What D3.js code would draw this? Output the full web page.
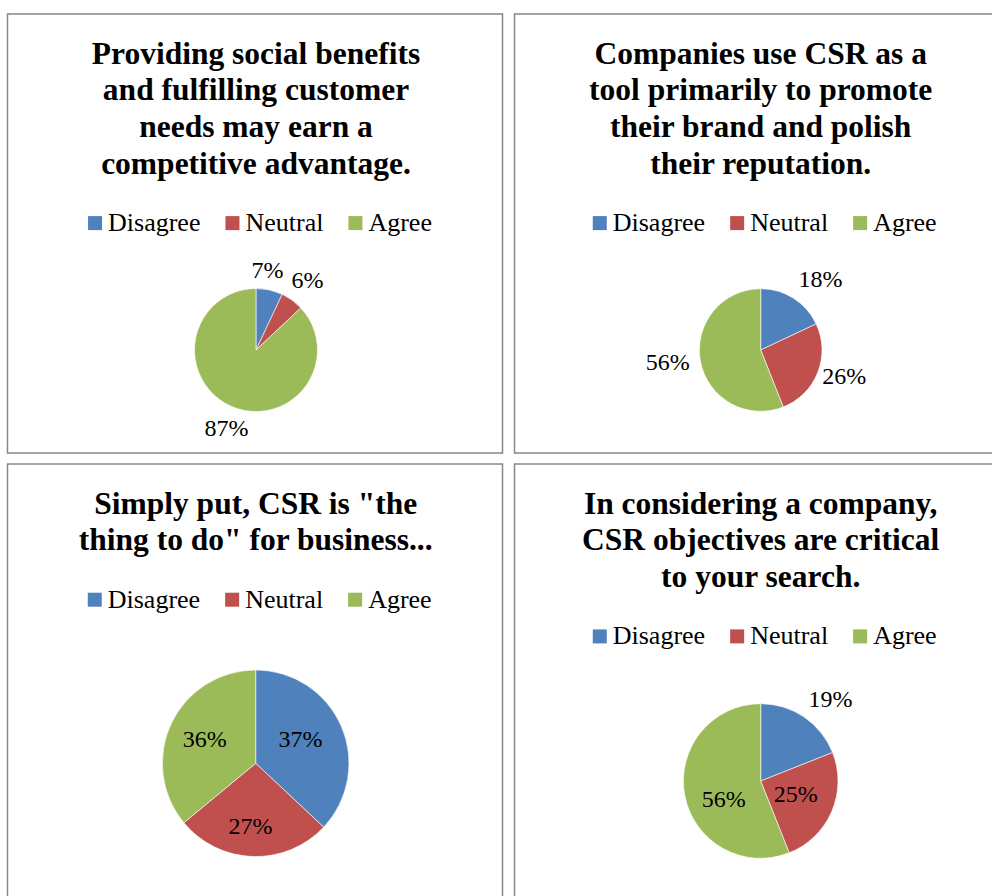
<!DOCTYPE html>
<html>
<head>
<meta charset="utf-8">
<script src="https://cdn.jsdelivr.net/npm/d3@7"></script>
<style>
  html, body { margin: 0; padding: 0; background: #ffffff; }
  svg { display: block; }
</style>
</head>
<body>
<script>
// Survey answers, one pie per statement
const categories = ["Disagree", "Neutral", "Agree"];

const titleQ1 = ["Providing social benefits", "and fulfilling customer", "needs may earn a", "competitive advantage."];
const titleQ2 = ["Companies use CSR as a", "tool primarily to promote", "their brand and polish", "their reputation."];
const titleQ3 = ["Simply put, CSR is \"the", "thing to do\" for business..."];
const titleQ4 = ["In considering a company,", "CSR objectives are critical", "to your search."];

const valuesQ1 = [7, 6, 87];
const valuesQ2 = [18, 26, 56];
const valuesQ3 = [37, 27, 36];
const valuesQ4 = [19, 25, 56];

const colors = ["#4F81BD", "#C0504D", "#9BBB59"];

// Panel frames and pie geometry
const panels = [
  { title: titleQ1, values: valuesQ1, x: 7.5,   y: 14,  w: 495, h: 439, pieDx: 248.5, pieDy: 336, r: 61.5,
    labels: [[1.314, -4.4], [1.413, 0.3], [1.356, -2.7]] },
  { title: titleQ2, values: valuesQ2, x: 514.5, y: 14,  w: 495, h: 439, pieDx: 246.2, pieDy: 336, r: 61.3,
    labels: [[1.514, 7.7], [1.427, -4.3], [1.529, 3.4]] },
  { title: titleQ3, values: valuesQ3, x: 7.5,   y: 464, w: 495, h: 460, pieDx: 248.2, pieDy: 299.3, r: 93.3,
    labels: [[0.548, -5.4], [0.677, 2.9], [0.607, 0.5]] },
  { title: titleQ4, values: valuesQ4, x: 514.5, y: 464, w: 495, h: 460, pieDx: 246.2, pieDy: 317, r: 77.3,
    labels: [[1.396, 6.1], [0.485, -2.6], [0.529, -14.8]] }
];

const W = 992, H = 896;
const svg = d3.select("body").append("svg").attr("width", W).attr("height", H);

const color = d3.scaleOrdinal().domain(categories).range(colors);
const pie = d3.pie().sort(null).value(d => d.value);

const titleSize = 31.5, titleLead = 36.7, titleTop = 49.5;
const legendSize = 26, legendGap = 57.5;

panels.forEach(p => {
  const g = svg.append("g").attr("transform", `translate(${p.x},${p.y})`);

  g.append("rect")
    .attr("width", p.w).attr("height", p.h)
    .attr("fill", "#ffffff")
    .attr("stroke", "#878787").attr("stroke-width", 1.5);

  const cx = p.pieDx;

  // Title
  const title = g.append("text")
    .attr("font-family", "'Liberation Serif', 'Times New Roman', serif")
    .attr("font-weight", "bold")
    .attr("font-size", titleSize)
    .attr("text-anchor", "middle")
    .attr("fill", "#000");
  p.title.forEach((line, i) => {
    title.append("tspan").attr("x", cx).attr("y", titleTop + i * titleLead).text(line);
  });

  // Legend
  const legendY = titleTop + (p.title.length - 1) * titleLead + legendGap;
  const legend = g.append("g");
  let lx = 0;
  categories.forEach((c, i) => {
    const item = legend.append("g").attr("transform", `translate(${lx},0)`);
    item.append("rect").attr("x", 0).attr("y", -15).attr("width", 14).attr("height", 14).attr("fill", color(c));
    const t = item.append("text")
      .attr("x", 20).attr("y", 0)
      .attr("font-family", "'Liberation Serif', 'Times New Roman', serif")
      .attr("font-size", legendSize)
      .attr("fill", "#000")
      .text(c);
    const tw = t.node().getComputedTextLength();
    lx += 20 + tw + (i < categories.length - 1 ? 25 : 0);
  });
  legend.attr("transform", `translate(${cx + 4 - lx / 2},${legendY})`);

  // Pie
  const data = categories.map((c, i) => ({ cat: c, value: p.values[i] }));
  const arcs = pie(data);
  const arc = d3.arc().innerRadius(0).outerRadius(p.r);
  const pg = g.append("g").attr("transform", `translate(${cx},${p.pieDy})`);
  pg.selectAll("path").data(arcs).join("path")
    .attr("d", arc)
    .attr("fill", d => color(d.data.cat))
    .attr("stroke", "#ffffff").attr("stroke-width", 0.6);

  // Percentage labels
  pg.selectAll("text").data(arcs).join("text")
    .attr("transform", (d, i) => {
      const [f, shift] = p.labels[i];
      const a = (d.startAngle + d.endAngle) / 2 + shift * Math.PI / 180;
      const dist = f * p.r;
      return `translate(${dist * Math.sin(a)},${-dist * Math.cos(a)})`;
    })
    .attr("dy", "0.34em")
    .attr("text-anchor", "middle")
    .attr("font-family", "'Liberation Serif', 'Times New Roman', serif")
    .attr("font-size", 24)
    .attr("fill", "#000")
    .text(d => d.data.value + "%");
});
</script>
</body>
</html>
